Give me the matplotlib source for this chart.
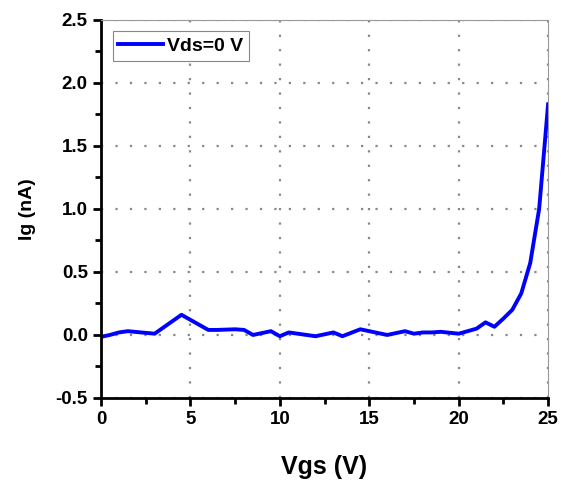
import numpy as np
import matplotlib
matplotlib.use("Agg")
import matplotlib.pyplot as plt
from matplotlib.ticker import MultipleLocator

plt.rcParams['font.family'] = ['Liberation Sans', 'DejaVu Sans']
plt.rcParams['font.weight'] = 'bold'

# Gate leakage current vs gate voltage
vgs = [0, 0.5, 1, 1.5, 3, 4.5, 6, 6.5, 7.5, 8, 8.5, 9.5, 10, 10.5, 11, 12,
       13, 13.5, 14.5, 15, 16, 17, 17.5, 18, 18.5, 19, 20, 21, 21.5, 22,
       22.5, 23, 23.5, 24, 24.5, 25]
ig = [-0.015, 0.0, 0.02, 0.03, 0.01, 0.16, 0.04, 0.04, 0.045, 0.04, 0.0,
      0.03, -0.01, 0.02, 0.01, -0.01, 0.02, -0.01, 0.045, 0.03, 0.0, 0.03,
      0.01, 0.02, 0.02, 0.025, 0.01, 0.05, 0.1, 0.065, 0.13, 0.2, 0.33,
      0.57, 1.0, 1.83]
label = 'Vds=0 V'

fig = plt.figure(figsize=(5.61, 4.83), dpi=100)
ax = fig.add_axes([0.18, 0.176, 0.797, 0.783])

ax.plot(vgs, ig, color='#0000ff', lw=2.8, label=label)

ax.set_xlim(0, 25)
ax.set_ylim(-0.5, 2.5)
ax.xaxis.set_major_locator(MultipleLocator(5))
ax.xaxis.set_minor_locator(MultipleLocator(2.5))
ax.yaxis.set_major_locator(MultipleLocator(0.5))
ax.yaxis.set_minor_locator(MultipleLocator(0.25))
ax.yaxis.set_major_formatter(matplotlib.ticker.FormatStrFormatter('%.1f'))

ax.grid(True, which='major', color='#888888', linestyle=(0, (1, 5.5)), lw=1.6)

for s in ['left', 'bottom']:
    ax.spines[s].set_linewidth(2)
    ax.spines[s].set_color('black')
for s in ['top', 'right']:
    ax.spines[s].set_linewidth(0.8)
    ax.spines[s].set_color('#999999')

ax.tick_params(which='major', direction='out', length=6, width=2, labelsize=13.5,
               top=False, right=False)
ax.tick_params(which='minor', direction='out', length=4, width=2, top=False, right=False)

ax.set_xlabel('Vgs (V)', fontsize=18, fontweight='bold', labelpad=19)
ax.set_ylabel('Ig (nA)', fontsize=14, fontweight='bold', labelpad=14)

leg = ax.legend(loc='upper left', fontsize=14, fancybox=False, framealpha=1,
                edgecolor='#888888', handlelength=2.3, handletextpad=0.2,
                borderpad=0.3, borderaxespad=0.6)
leg.get_frame().set_linewidth(0.8)

fig.savefig('out.png', dpi=100)
